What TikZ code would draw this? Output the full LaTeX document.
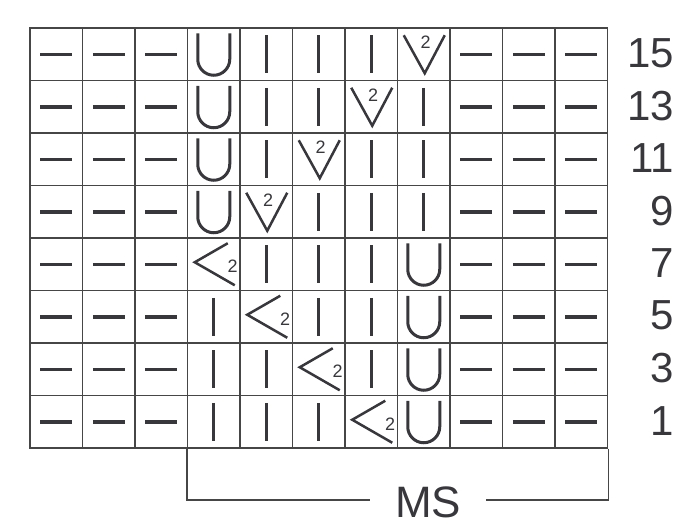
\documentclass[tikz,border=0pt]{standalone}
\usepackage{fontspec}
\setmainfont{Liberation Sans}
\usetikzlibrary{positioning}
\definecolor{gridgray}{RGB}{70,70,70}
\definecolor{inkgray}{RGB}{55,55,60}

\begin{document}
\begin{tikzpicture}[x=1pt,y=-1pt,
  cell/.style={draw=gridgray,line width=1.7pt,minimum size=52.5pt,inner sep=0pt},
  stroke/.style={draw=inkgray,line width=3pt,line cap=butt},
  two/.style={inner sep=0pt,text=inkgray,font=\fontsize{18}{18}\selectfont},
  rownum/.style={anchor=east,inner sep=0pt,text=inkgray,font=\fontsize{42}{42}\selectfont},
  mslabel/.style={inner xsep=25pt,inner ysep=0pt,text=inkgray,font=\fontsize{44}{44}\selectfont},
  bracket/.style={draw=gridgray,line width=1.7pt},
  purl/.pic={\draw[stroke,line width=3.5pt] (-16,0) -- (16,0);},
  knit/.pic={\draw[stroke] (0,-19) -- (0,19);},
  yo/.pic={\draw[stroke] (-16,-21) -- (-16,5) arc[start angle=180,end angle=0,radius=16] -- (16,-21);},
  kdec/.pic={\draw[stroke,line width=2.5pt] (-20,-19) -- (1,19) -- (21,-19);
    \node[two] at (2,-12) {2};},
  ldec/.pic={\draw[stroke,line width=2.5pt] (14,-21) -- (-19,-2) -- (21,21);
    \node[two] at (19,2) {2};},
]
  \useasboundingbox (0,0) rectangle (678,525);

  % chart rows, top (15) to bottom (1)
  \foreach \row [count=\i] in {
      {purl,purl,purl,yo,knit,knit,knit,kdec,purl,purl,purl},
      {purl,purl,purl,yo,knit,knit,kdec,knit,purl,purl,purl},
      {purl,purl,purl,yo,knit,kdec,knit,knit,purl,purl,purl},
      {purl,purl,purl,yo,kdec,knit,knit,knit,purl,purl,purl},
      {purl,purl,purl,ldec,knit,knit,knit,yo,purl,purl,purl},
      {purl,purl,purl,knit,ldec,knit,knit,yo,purl,purl,purl},
      {purl,purl,purl,knit,knit,ldec,knit,yo,purl,purl,purl},
      {purl,purl,purl,knit,knit,knit,ldec,yo,purl,purl,purl}}{
    \foreach \s [count=\j] in \row {
      \node[cell] (c-\i-\j) at ({52.5*\j+3.75},{52.5*\i+1.75}) {};
      \pic at (c-\i-\j) {\s};
    }
  }

  \foreach \n [count=\i] in {15,13,11,9,7,5,3,1}
    \node[rownum] (r-\i) at (674,{52.5*\i+0.75}) {\n};

  \node[mslabel] (ms) at (428,502) {MS};
  \draw[bracket] (c-8-4.south west) |- ([yshift=2pt]ms.west);
  \draw[bracket] (c-8-11.south east) |- ([yshift=2pt]ms.east);
\end{tikzpicture}
\end{document}
